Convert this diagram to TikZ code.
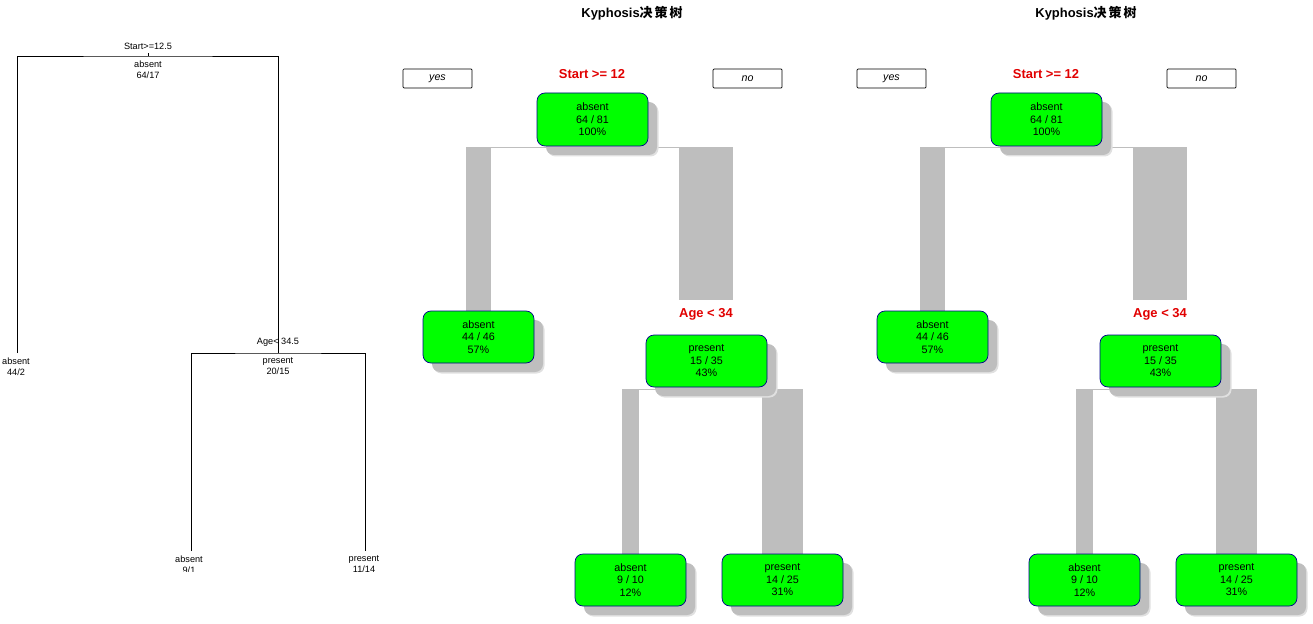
\documentclass[tikz,border=0pt]{standalone}
\usepackage{fontspec}
\setmainfont{Liberation Sans}
\newfontfamily\cjk{Noto Sans CJK SC}
\usetikzlibrary{shadows,backgrounds}
\definecolor{nodegreen}{RGB}{0,255,0}
\definecolor{nodeborder}{RGB}{0,0,139}
\definecolor{splitred}{RGB}{225,0,0}
\definecolor{branchgray}{RGB}{190,190,190}
\tikzset{
  oldline/.style={line width=0.8bp, black},
  oldlabel/.style={inner sep=0pt, align=center, font=\fontsize{9.2}{11}\selectfont},
  treenode/.style={draw=nodeborder, fill=nodegreen, line width=0.7bp, rounded corners=8bp,
    inner sep=0pt, align=center, minimum height=52bp, font=\fontsize{10.8}{12.5}\selectfont,
    drop shadow={shadow xshift=10.5bp, shadow yshift=-10.5bp, fill=black!12, opacity=1},
    drop shadow={shadow xshift=9bp, shadow yshift=-9bp, fill=branchgray, opacity=1}},
  yesno/.style={draw=black, fill=white, line width=0.7bp, rounded corners=1bp, inner sep=0pt,
    minimum width=69bp, minimum height=19bp, font=\fontsize{10.7}{12}\selectfont\itshape},
  split/.style={inner sep=0pt, text=splitred, font=\fontsize{13}{15}\selectfont\bfseries},
  treetitle/.style={inner sep=0pt, font=\fontsize{13}{15}\selectfont\bfseries},
  branch/.style={fill=branchgray},
  hline/.style={draw=branchgray, line width=0.6bp}
}
\begin{document}
\begin{tikzpicture}[x=1bp, y=-1bp]
  \useasboundingbox (0,0) rectangle (1313,624);
  % classic rpart plot
  \begin{scope}
    \clip (0,0) rectangle (400,571);
    \coordinate (j1) at (148,56);
    \coordinate (j2) at (278,353);
    \coordinate (a1) at (17,353);
    \coordinate (b1) at (191,551);
    \coordinate (b2) at (365,551);
    \draw[oldline] (a1) |- (j1) -| (j2);
    \draw[oldline] (b1) |- (j2) -| (b2);
    \draw[oldline] (j1) -- ++(0,-3);
    \node[oldlabel] (s1) at (148,46) {Start>=12.5};
    \node[oldlabel] (n1) at (148,69.5) {absent\\64/17};
    \node[oldlabel] (n2) at (16,366.5) {absent\\44/2};
    \node[oldlabel] (s2) at (278,342) {Age< 34.5};
    \node[oldlabel] (n3) at (278,366.5) {present\\20/15};
    \node[oldlabel] (n4) at (189,564.5) {absent\\9/1};
    \node[oldlabel] (n5) at (364,564.5) {present\\11/14};
  \end{scope}
  % rpart.plot trees
  \foreach \dx/\p in {0/m, 454/r}{
    \begin{scope}[shift={(\dx,0)}]
      \node[treetitle] (\p-title) at (632,13) {Kyphosis{\cjk 决\kern2bp策\kern2bp树}};
      \node[yesno] (\p-yes) at (437.5,78.5) {yes};
      \node[yesno] (\p-no) at (747.5,78.5) {no};
      \node[split] (\p-sp1) at (592,74) {Start >= 12};
      \node[split] (\p-sp2) at (706,314) {Age < 34};
      \node[treenode, minimum width=111bp, minimum height=53bp] (\p-root) at (592.5,119.5) {absent\\64 / 81\\100\%};
      \node[treenode, minimum width=111bp] (\p-lft) at (478.5,337) {absent\\44 / 46\\57\%};
      \node[treenode, minimum width=121bp] (\p-rgt) at (706.5,361) {present\\15 / 35\\43\%};
      \node[treenode, minimum width=111bp] (\p-ll) at (630.5,580) {absent\\9 / 10\\12\%};
      \node[treenode, minimum width=121bp] (\p-lr) at (782.5,580) {present\\14 / 25\\31\%};
      \begin{scope}[on background layer]
        \draw[hline] (466,147) -- (733,147);
        \draw[hline] (622,389) -- (803,389);
        \fill[branch] (466,147) rectangle (491,0 |- \p-lft.north);
        \fill[branch] (679,147) rectangle (733,300);
        \fill[branch] (622,389) rectangle (639,0 |- \p-ll.north);
        \fill[branch] (762,389) rectangle (803,0 |- \p-lr.north);
      \end{scope}
    \end{scope}
  }
\end{tikzpicture}
\end{document}
